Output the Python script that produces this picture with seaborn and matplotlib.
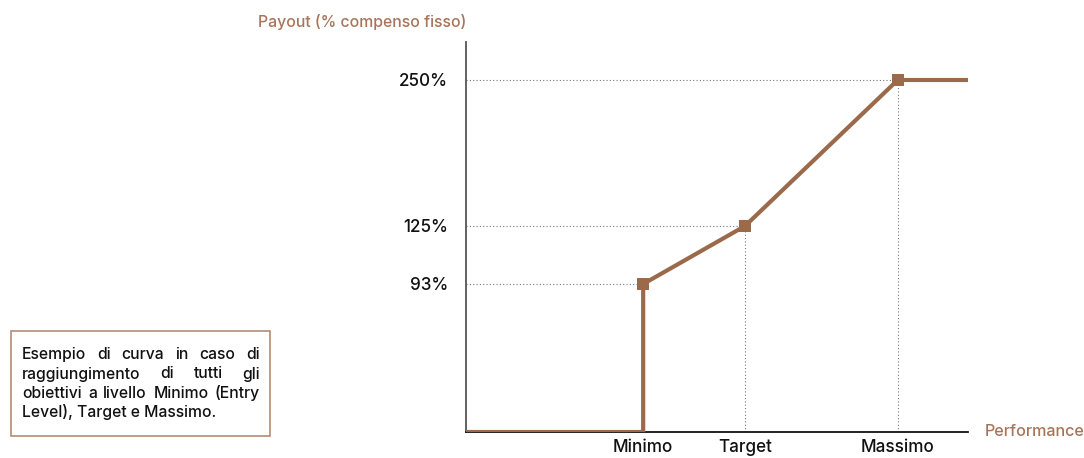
import numpy as np
import pandas as pd
import matplotlib
matplotlib.use("Agg")
import matplotlib.pyplot as plt
import seaborn as sns

# Performance levels (abstract positions on the x axis) and payout (% of fixed pay)
level_names = ["Minimo", "Target", "Massimo"]
level_perf = [90, 100, 115]
level_payout = [93, 125, 250]
perf_start, perf_end = 72.6, 121.9

y_ticks = [93, 125, 250]
y_tick_labels = ["93%", "125%", "250%"]

LINE = "#9A6A4B"
ACCENT = "#A8745A"
BOX_EDGE = "#B38C76"

sns.set_theme(style="white")
plt.rcParams["font.family"] = ["Inter", "DejaVu Sans"]
W = 500  # medium weight for all text

# Curve path: zero below the minimum, jump at Minimo, then linear segments, capped after Massimo
path = pd.DataFrame({
    "perf": [perf_start, level_perf[0], level_perf[0], level_perf[1], level_perf[2], perf_end],
    "payout": [0, 0, level_payout[0], level_payout[1], level_payout[2], level_payout[2]],
})
points = pd.DataFrame({"perf": level_perf, "payout": level_payout})

fig = plt.figure(figsize=(10.84, 4.58), dpi=100)
ax = fig.add_axes([466 / 1084, 1 - 432 / 458, (968 - 466) / 1084, (432 - 42) / 458])

# Non-uniform payout axis: each labelled level sits at its own height
knots_val = np.array([0, 93, 125, 250, 400])
knots_pos = np.array([0, 148, 206, 352, 527.2])
fwd = lambda v: np.interp(v, knots_val, knots_pos)
inv = lambda p: np.interp(p, knots_pos, knots_val)
ax.set_yscale("function", functions=(fwd, inv))
ax.set_ylim(0, inv(390))
ax.set_xlim(perf_start, perf_end)

# Dotted guides from the axes to each level
guide = dict(color="#777777", lw=0.8, ls=(0, (1, 2)), zorder=1)
for p, v in zip(level_perf, level_payout):
    ax.plot([perf_start, p], [v, v], **guide)
    ax.plot([p, p], [0, v], **guide)

sns.lineplot(data=path, x="perf", y="payout", sort=False, estimator=None,
             color=LINE, lw=3, ax=ax, zorder=3)
sns.scatterplot(data=points, x="perf", y="payout", marker="s", s=66,
                color=LINE, edgecolor=LINE, linewidth=0, ax=ax, zorder=4)

ax.set_xticks(level_perf)
ax.set_xticklabels(level_names, fontweight=W)
ax.set_yticks(y_ticks)
ax.set_yticklabels(y_tick_labels, fontweight=W)
ax.tick_params(axis="both", length=0, labelsize=12.3, colors="#111111")
ax.tick_params(axis="y", pad=13)
ax.tick_params(axis="x", pad=5)
ax.minorticks_off()
ax.set_xlabel("")
ax.set_ylabel("")

for s in ["top", "right"]:
    ax.spines[s].set_visible(False)
ax.spines["left"].set_color("#555555")
ax.spines["left"].set_linewidth(1.3)
ax.spines["bottom"].set_color("#111111")
ax.spines["bottom"].set_linewidth(1.3)

fig.text(466 / 1084, 1 - 22 / 458, "Payout (% compenso fisso)", color=ACCENT,
         fontsize=11.4, fontweight=W, ha="right", va="center")
fig.text(985 / 1084, 1 - 432 / 458, "Performance", color=ACCENT,
         fontsize=11.6, fontweight=W, ha="left", va="center")

# Note box with justified text
box_left, box_right, box_top, box_bottom = 11, 270, 331, 436
fig.patches.append(plt.Rectangle((box_left / 1084, 1 - box_bottom / 458),
                                 (box_right - box_left) / 1084, (box_bottom - box_top) / 458,
                                 transform=fig.transFigure, fill=False,
                                 edgecolor=BOX_EDGE, lw=1.2))
note_lines = [
    "Esempio di curva in caso di",
    "raggiungimento di tutti gli",
    "obiettivi a livello Minimo (Entry",
    "Level), Target e Massimo.",
]
renderer = fig.canvas.get_renderer()
tx0, tx1 = 22, 260
baselines = [359, 378.5, 398, 417.5]
note_style = dict(fontsize=11.3, color="#111111", fontweight=W, va="baseline", ha="left")
for i, (line, yy) in enumerate(zip(note_lines, baselines)):
    words = line.split(" ")
    if i == len(note_lines) - 1:
        fig.text(tx0 / 1084, 1 - yy / 458, line, **note_style)
        continue
    arts = [fig.text(0, 1 - yy / 458, w, **note_style) for w in words]
    widths = [a.get_window_extent(renderer).width for a in arts]
    gap = (tx1 - tx0 - sum(widths)) / (len(words) - 1)
    x = tx0
    for a, w in zip(arts, widths):
        a.set_x(x / 1084)
        x += w + gap

fig.savefig("out.png", dpi=100)
